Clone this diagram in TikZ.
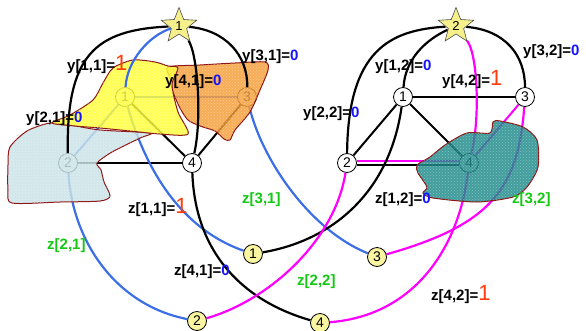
\documentclass[tikz,border=0pt]{standalone}
\usepackage{fontspec}
\setmainfont{Liberation Sans}
\usetikzlibrary{shapes.geometric,patterns}
\definecolor{cblue}{RGB}{60,110,230}
\definecolor{cmag}{RGB}{255,0,255}
\definecolor{vred}{RGB}{255,60,10}
\definecolor{vblue}{RGB}{20,20,255}
\definecolor{cgreen}{RGB}{20,200,20}
\definecolor{byellow}{RGB}{255,255,50}
\definecolor{borange}{RGB}{245,155,50}
\definecolor{blight}{RGB}{200,226,230}
\definecolor{bteal}{RGB}{25,135,135}
\definecolor{bline}{RGB}{140,20,20}
\definecolor{nyellow}{RGB}{250,245,160}
\definecolor{syellow}{RGB}{245,240,140}
\newcommand{\vone}{{\color{vred}\mdseries\fontsize{22}{22}\selectfont 1}}
\newcommand{\vzero}{{\color{vblue}0}}
\pgfdeclarelayer{edges}\pgfdeclarelayer{blobs}\pgfdeclarelayer{ycurves}\pgfdeclarelayer{front}
\pgfsetlayers{edges,main,blobs,ycurves,front}
\begin{document}
\begin{tikzpicture}[x=1pt,y=-1pt,
 gnode/.style={circle,draw,fill=white,minimum size=19pt,inner sep=0pt,line width=0.8pt,font=\fontsize{14}{14}\selectfont},
 bnode/.style={gnode,fill=nyellow},
 starnode/.style={star,star points=5,star point ratio=2.3,draw=black!70,line width=0.6pt,fill=syellow,minimum size=37pt,inner sep=0pt,font=\fontsize{13}{13}\selectfont},
 edge/.style={line width=2pt},
 curve/.style={line width=2.2pt},
 lab/.style={anchor=base west,inner sep=0pt,font=\bfseries\fontsize{15}{15}\selectfont},
 glab/.style={lab,text=cgreen},
 blob/.style={draw=bline,line width=1pt,fill opacity=0.82,
   postaction={fill opacity=0.35,pattern=crosshatch dots,pattern color=white}}
]
\useasboundingbox (0,0) rectangle (586,330);
% graph nodes
\node[gnode] (L1) at (125,97) {1};
\node[gnode] (L2) at (68,163) {2};
\node[gnode] (L3) at (247,97) {3};
\node[gnode] (L4) at (192,163) {4};
\node[gnode] (R1) at (403,97) {1};
\node[gnode] (R2) at (347,163) {2};
\node[gnode] (R3) at (525,97) {3};
\node[gnode] (R4) at (469,163) {4};
\node[bnode] (B1) at (253,254) {1};
\node[bnode] (B2) at (197,321) {2};
\node[bnode] (B3) at (377,257) {3};
\node[bnode] (B4) at (320,323) {4};
\begin{pgfonlayer}{front}
\node[starnode] (S1) at (179,26) {1};
\node[starnode] (S2) at (456,26) {2};
\end{pgfonlayer}
% edges and z curves
\begin{pgfonlayer}{edges}
\draw[edge,cblue] (L1) -- (L2);
\draw[edge,cblue] (L1) -- (L3);
\draw[edge] (L1) -- (L4);
\draw[edge] (L2) -- (L4);
\draw[edge] (L3) -- (L4);
\draw[edge] (R1) -- (R2);
\draw[edge] (R1) -- (R3);
\draw[edge] (R1) -- (R4);
\draw[edge] ([yshift=-1.6pt]R2.east) -- ([yshift=-1.6pt]R4.west);
\draw[edge,cmag] ([yshift=1.6pt]R2.east) -- ([yshift=1.6pt]R4.west);
\draw[edge,cmag] (R3) -- (R4);
\draw[curve,cmag] (S2) .. controls (478,55) and (480,120) .. (R4);
\draw[curve,cblue] (L1) .. controls (140,150) and (170,225) .. (B1);
\draw[curve,cblue] (L2) .. controls (72,240) and (115,305) .. (B2);
\draw[curve,cblue] (L3) .. controls (262,160) and (310,230) .. (B3);
\draw[curve] (L4) .. controls (195,250) and (240,300) .. (B4);
\draw[curve] (R1) .. controls (390,190) and (335,240) .. (B1);
\draw[curve,cmag] (R2) .. controls (335,240) and (270,300) .. (B2);
\draw[curve,cmag] (R3) .. controls (518,190) and (490,225) .. (B3);
\draw[curve,cmag] (R4) .. controls (460,240) and (420,315) .. (B4);
\end{pgfonlayer}
% blobs
\begin{pgfonlayer}{blobs}
\draw[blob,fill=blight] plot[smooth cycle,tension=0.45] coordinates {(10,147) (27,131) (50,123) (70,125) (100,130) (150,133) (140,138) (112,152) (97,163) (101,170) (104,182) (110,196) (100,201) (60,202) (12,203) (8,190) (8,165)};
\draw[blob,fill=borange] plot[smooth cycle,tension=0.45] coordinates {(168,67) (200,65) (235,63) (265,62) (268,70) (260,90) (250,112) (235,130) (230,140) (224,139) (215,131) (200,126) (188,120) (180,108) (173,92) (170,78)};
\draw[blob,fill=byellow] plot[smooth cycle,tension=0.45] coordinates {(52,123) (70,115) (93,100) (103,83) (113,68) (133,60) (155,62) (168,66) (178,68) (172,85) (178,112) (188,134) (160,134) (130,131) (100,128) (75,126)};
\draw[blob,fill=bteal] plot[smooth cycle,tension=0.45] coordinates {(417,165) (430,157) (445,145) (467,133) (490,133) (493,122) (500,121) (523,127) (537,140) (538,167) (527,187) (513,197) (477,202) (433,198) (423,193) (427,187) (418,173)};
\end{pgfonlayer}
% y curves
\begin{pgfonlayer}{ycurves}
\draw[curve] (S1) .. controls (95,30) and (66,55) .. (L2);
\draw[curve,cblue] (S1) .. controls (150,35) and (127,60) .. (L1);
\draw[curve] (S1) .. controls (198,55) and (202,120) .. (L4);
\draw[curve] (S1) .. controls (225,30) and (248,55) .. (L3);
\draw[curve] (S2) .. controls (390,30) and (348,50) .. (R2);
\draw[curve] (S2) .. controls (425,40) and (405,60) .. (R1);
\draw[curve] (S2) .. controls (505,30) and (525,55) .. (R3);
\end{pgfonlayer}
% labels
\begin{pgfonlayer}{front}
\node[lab] (ly11) at (67,70) {y[1,1]=\vone};
\node[lab] (ly21) at (26,122) {y[2,1]=\vzero};
\node[lab] (ly41) at (165,85) {y[4,1]=\vzero};
\node[lab] (ly31) at (242,60) {y[3,1]=\vzero};
\node[lab] (ly12) at (375,70) {y[1,2]=\vzero};
\node[lab] (ly42) at (442,85) {y[4,2]=\vone};
\node[lab] (ly22) at (303,117) {y[2,2]=\vzero};
\node[lab] (ly32) at (523,55) {y[3,2]=\vzero};
\node[lab] (lz11) at (128,213) {z[1,1]=\vone};
\node[lab] (lz41) at (174,275) {z[4,1]=\vzero};
\node[glab] (lz31) at (242,203) {z[3,1]};
\node[glab] (lz21) at (47,249) {z[2,1]};
\node[glab] (lz22) at (297,285) {z[2,2]};
\node[lab] (lz12) at (375,203) {z[1,2]=\vzero};
\node[glab] (lz32) at (512,203) {z[3,2]};
\node[lab] (lz42) at (431,300) {z[4,2]=\vone};
\end{pgfonlayer}
\end{tikzpicture}
\end{document}
